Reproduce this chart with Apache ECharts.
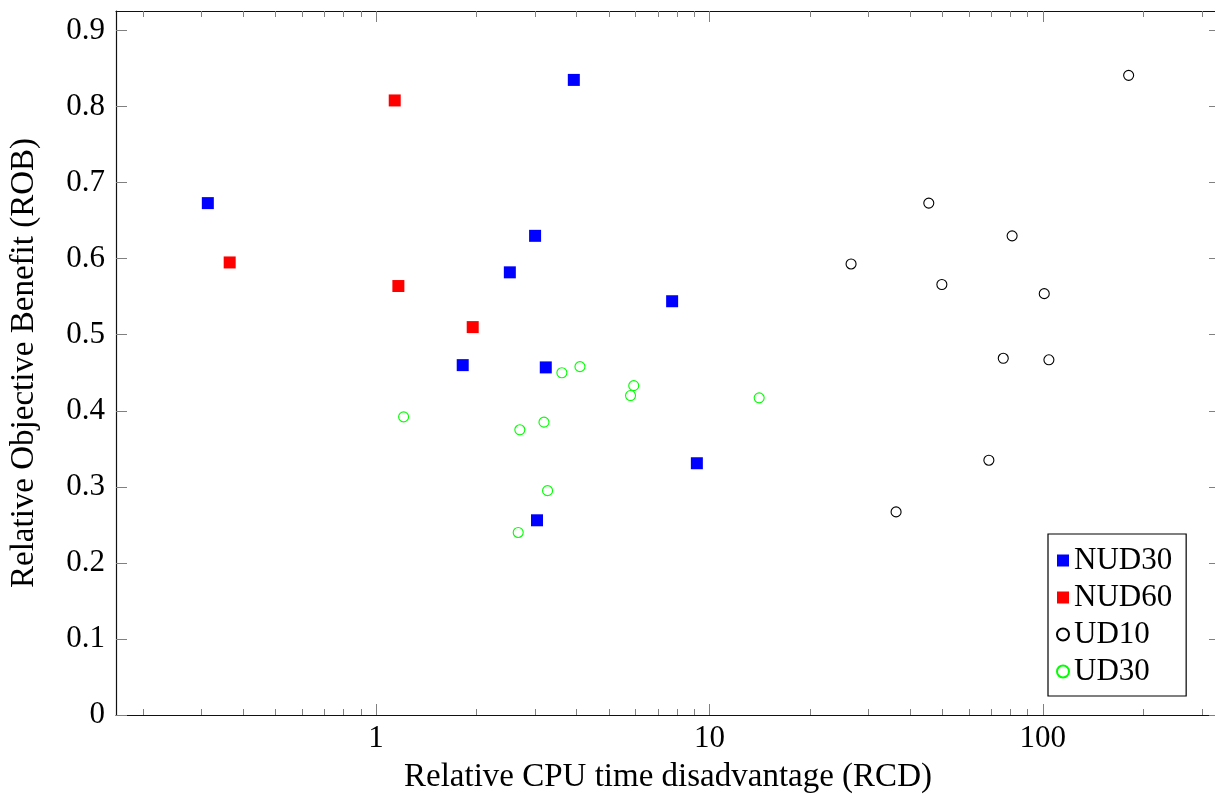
<!DOCTYPE html>
<html>
<head>
<meta charset="utf-8">
<script src="https://cdn.jsdelivr.net/npm/echarts@6/dist/echarts.min.js"></script>
<style>
html,body{margin:0;padding:0;background:#fff;}
#chart{width:1215px;height:804px;}
</style>
</head>
<body>
<div id="chart"></div>
<script>
// ---- data (x = RCD, y = ROB) ----
var nud30X = [0.313, 3.92, 3.00, 2.52, 7.73, 1.82, 3.23, 9.17, 3.04];
var nud30Y = [0.673, 0.835, 0.630, 0.582, 0.544, 0.460, 0.457, 0.331, 0.256];
var nud60X = [0.364, 1.138, 1.167, 1.95];
var nud60Y = [0.595, 0.808, 0.564, 0.510];
var ud10X = [180.9, 45.5, 80.9, 26.6, 49.8, 101, 76.1, 104.3, 68.9, 36.3];
var ud10Y = [0.841, 0.673, 0.630, 0.593, 0.566, 0.554, 0.469, 0.467, 0.335, 0.267];
var ud30X = [3.61, 4.09, 5.93, 5.80, 14.1, 1.21, 2.70, 3.19, 3.27, 2.67];
var ud30Y = [0.450, 0.458, 0.433, 0.420, 0.417, 0.392, 0.375, 0.385, 0.295, 0.240];

var seriesNames = ['NUD30', 'NUD60', 'UD10', 'UD30'];
var xMajorTicks = [1, 10, 100];
var xMinorTicks = [0.2, 0.3, 0.4, 0.5, 0.6, 0.7, 0.8, 0.9,
                   2, 3, 4, 5, 6, 7, 8, 9,
                   20, 30, 40, 50, 60, 70, 80, 90,
                   200, 300];
var yTicks = [0, 0.1, 0.2, 0.3, 0.4, 0.5, 0.6, 0.7, 0.8, 0.9];
var xTitle = 'Relative CPU time disadvantage (RCD)';
var yTitle = 'Relative Objective Benefit (ROB)';

function pairs(xs, ys) { return xs.map(function (x, i) { return [x, ys[i]]; }); }

var FONT = "'Liberation Serif', 'DejaVu Serif', serif";
var XMIN = 0.166, XMAX = 340, YMIN = 0, YMAX = 0.9256;
var tickStyle = { color: '#808080', width: 1 };
var lineStyle = { color: '#111', width: 1.2 };

function xAx(pos, major, showLine, showLabel) {
  return {
    type: 'log', logBase: 10, min: XMIN, max: XMAX, position: pos,
    name: (pos === 'bottom' && major) ? xTitle : '',
    nameLocation: 'middle', nameGap: 46,
    nameTextStyle: { fontFamily: FONT, fontSize: 33, color: '#000' },
    axisLine: { show: showLine, onZero: false, lineStyle: lineStyle },
    axisTick: { show: true, inside: true, length: major ? 11 : 6,
                customValues: major ? xMajorTicks : xMinorTicks, lineStyle: tickStyle },
    axisLabel: { show: showLabel, customValues: xMajorTicks, margin: 8,
                 fontFamily: FONT, fontSize: 31, color: '#000' },
    splitLine: { show: false }, minorTick: { show: false }
  };
}
function yAx(pos, showLabel) {
  return {
    type: 'value', min: YMIN, max: YMAX, position: pos,
    name: showLabel ? yTitle : '', nameLocation: 'middle', nameGap: 75,
    nameTextStyle: { fontFamily: FONT, fontSize: 33, color: '#000' },
    axisLine: { show: true, onZero: false, lineStyle: lineStyle },
    axisTick: { show: true, inside: true, length: 11, customValues: yTicks, lineStyle: tickStyle },
    axisLabel: { show: showLabel, customValues: yTicks, margin: 11,
                 fontFamily: FONT, fontSize: 31, color: '#000' },
    splitLine: { show: false }
  };
}

var chart = echarts.init(document.getElementById('chart'), null, { renderer: 'canvas' });
chart.setOption({
  backgroundColor: '#fff',
  animation: false,
  grid: { left: 116, width: 1104, top: 11, height: 704, containLabel: false, outerBoundsMode: 'none' },
  xAxis: [xAx('bottom', true, true, true), xAx('bottom', false, false, false),
          xAx('top', true, true, false), xAx('top', false, false, false)],
  yAxis: [yAx('left', true), yAx('right', false)],
  legend: {
    data: seriesNames, orient: 'vertical', left: 1048, top: 534,
    backgroundColor: '#fff', borderColor: '#000', borderWidth: 1.2,
    padding: [11, 14, 9, 8], itemGap: 6, itemWidth: 12, itemHeight: 12,
    textStyle: { fontFamily: FONT, fontSize: 31, color: '#000', lineHeight: 30 }
  },
  series: [
    { name: 'NUD30', type: 'scatter', symbol: 'rect', symbolSize: 12,
      itemStyle: { color: '#0000ff', opacity: 1 }, data: pairs(nud30X, nud30Y) },
    { name: 'NUD60', type: 'scatter', symbol: 'rect', symbolSize: 12,
      itemStyle: { color: '#ff0000', opacity: 1 }, data: pairs(nud60X, nud60Y) },
    { name: 'UD10', type: 'scatter', symbol: 'circle', symbolSize: 10,
      itemStyle: { color: '#fff', borderColor: '#000', borderWidth: 1.1, opacity: 1 }, data: pairs(ud10X, ud10Y) },
    { name: 'UD30', type: 'scatter', symbol: 'circle', symbolSize: 10,
      itemStyle: { color: '#fff', borderColor: '#00ff00', borderWidth: 1.1, opacity: 1 }, data: pairs(ud30X, ud30Y) }
  ]
});
</script>
</body>
</html>
